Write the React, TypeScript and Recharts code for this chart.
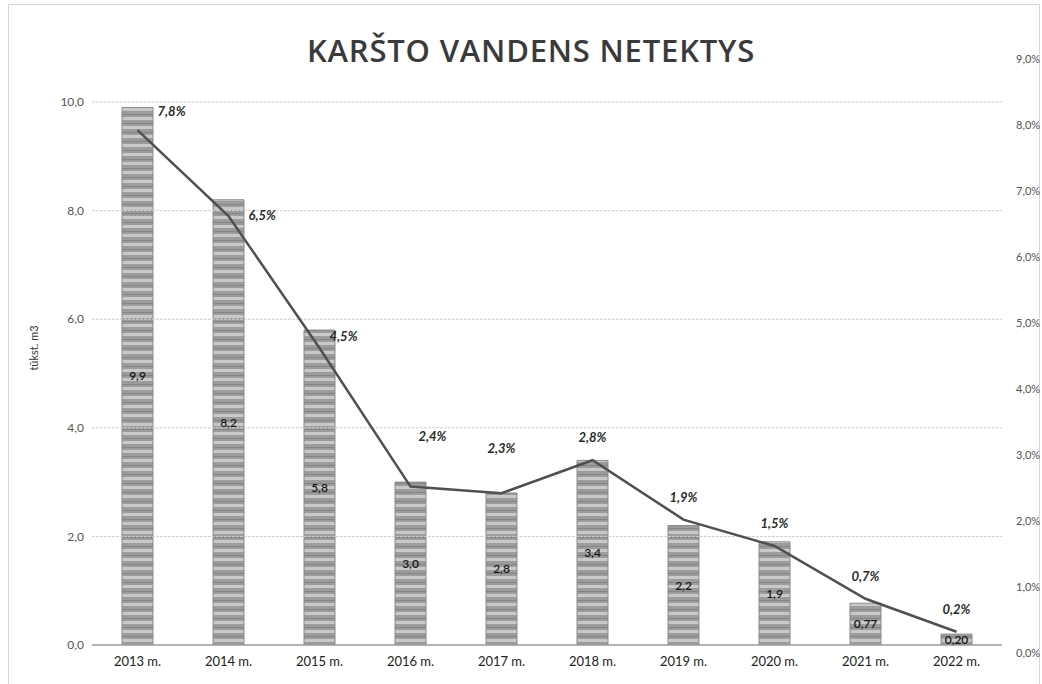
import React from 'react';
import {
  ComposedChart, Bar, Line, XAxis, YAxis, ReferenceLine, LabelList, Label
} from 'recharts';

// hot water losses, thousand m3 and share (%)
const years = ['2013 m.', '2014 m.', '2015 m.', '2016 m.', '2017 m.', '2018 m.', '2019 m.', '2020 m.', '2021 m.', '2022 m.'];
const volumes = [9.9, 8.2, 5.8, 3.0, 2.8, 3.4, 2.2, 1.9, 0.77, 0.2];
const volumeLabels = ['9,9', '8,2', '5,8', '3,0', '2,8', '3,4', '2,2', '1,9', '0,77', '0,20'];
const shares = [7.8, 6.5, 4.5, 2.4, 2.3, 2.8, 1.9, 1.5, 0.7, 0.2];
const leftTicks = [0, 2, 4, 6, 8, 10];
const rightTicks = [0, 1, 2, 3, 4, 5, 6, 7, 8, 9];

const data = years.map((year, i) => ({
  year,
  volume: volumes[i],
  volumeLabel: volumeLabels[i],
  share: shares[i],
}));

const fmtComma = (v: number, digits: number) => v.toFixed(digits).replace('.', ',');

const ShareLabel = (props: any) => {
  const { x, y, value, index } = props;
  const text = fmtComma(value, 1) + '%';
  let lx = x;
  let ly = y - 18;
  let anchor: 'start' | 'middle' = 'middle';
  if (index === 0) { lx = x + 20; ly = y - 14; anchor = 'start'; }
  else if (index === 1) { lx = x + 20; ly = y + 4; anchor = 'start'; }
  else if (index === 2) { lx = x + 10; ly = y - 7; anchor = 'start'; }
  else if (index === 3) { lx = x + 22; ly = y - 46; }
  else if (index === 4) { ly = y - 40; }
  return (
    <text x={lx} y={ly} textAnchor={anchor} fontSize={13} fontWeight="bold" fontStyle="italic"
      fill="#2a2a2a" fontFamily="Lato, sans-serif">
      {text}
    </text>
  );
};

const App = () => {
  return (
    <div style={{ position: 'absolute', left: 0, top: 0, width: 1042, height: 684, background: '#fff' }}>
      <div style={{
        position: 'absolute', left: 8, top: 4, width: 1030, height: 690,
        border: '1px solid #d6d6d6', pointerEvents: 'none'
      }} />
      <div style={{
        position: 'absolute', left: 0, top: 30, width: 1062, textAlign: 'center',
        fontFamily: '"Open Sans", sans-serif', fontWeight: 600, fontSize: 31, color: '#3a3a3a',
        letterSpacing: 0.8, lineHeight: '40px'
      }}>
        KARŠTO VANDENS NETEKTYS
      </div>
      <ComposedChart
        width={1042}
        height={684}
        data={data}
        margin={{ top: 51, right: 0, left: 0, bottom: 9 }}
        style={{ position: 'absolute', left: 0, top: 0 }}
      >
        <defs>
          <pattern id="stripes" width="8" height="9" patternUnits="userSpaceOnUse">
            <rect width="8" height="9" fill="#9c9c9c" />
            <rect y="0" width="8" height="3" fill="#c9c9c9" />
            <rect y="6" width="8" height="1" fill="#858585" />
          </pattern>
        </defs>
        {leftTicks.slice(1).map((t) => (
          <ReferenceLine key={t} yAxisId="left" y={t} stroke="#cfcfcf" strokeDasharray="3 1" />
        ))}
        <XAxis
          dataKey="year"
          tickLine={false}
          axisLine={{ stroke: '#9a9a9a', strokeWidth: 1.5 }}
          tickSize={0}
          tickMargin={12}
          height={30}
          tick={{ fontSize: 13, fill: '#222', fontFamily: 'Lato, sans-serif' }}
        />
        <YAxis
          yAxisId="left"
          domain={[0, 10.94]}
          ticks={leftTicks}
          allowDataOverflow
          width={92}
          tickLine={false}
          axisLine={false}
          tickSize={0}
          tickMargin={8}
          tickFormatter={(v: number) => fmtComma(v, 1)}
          tick={{ fontSize: 12, fill: '#555', fontFamily: 'Lato, sans-serif' }}
        >
          <Label
            value="tūkst. m3"
            angle={-90}
            position="insideLeft"
            offset={34}
            style={{ textAnchor: 'middle', fontSize: 11, fill: '#333', fontFamily: 'Lato, sans-serif' }}
          />
        </YAxis>
        <YAxis
          yAxisId="right"
          orientation="right"
          domain={[0, 9]}
          ticks={rightTicks}
          width={40}
          tickLine={false}
          axisLine={false}
          tickSize={0}
          tickMargin={14}
          tickFormatter={(v: number) => fmtComma(v, 1) + '%'}
          tick={{ fontSize: 11, fill: '#555', fontFamily: 'Lato, sans-serif', dy: 8 } as any}
        />
        <Bar
          yAxisId="left"
          dataKey="volume"
          fill="url(#stripes)"
          stroke="#8a8a8a"
          strokeWidth={1}
          barSize={31}
          isAnimationActive={false}
        >
          <LabelList
            dataKey="volumeLabel"
            position="center"
            style={{ fontSize: 12, fontWeight: 600, fill: '#151515', fontFamily: 'Lato, sans-serif' }}
          />
        </Bar>
        <Line
          yAxisId="right"
          dataKey="share"
          stroke="#505050"
          strokeWidth={2.5}
          dot={false}
          isAnimationActive={false}
        >
          <LabelList dataKey="share" content={ShareLabel} />
        </Line>
      </ComposedChart>
    </div>
  );
};

export default App;
